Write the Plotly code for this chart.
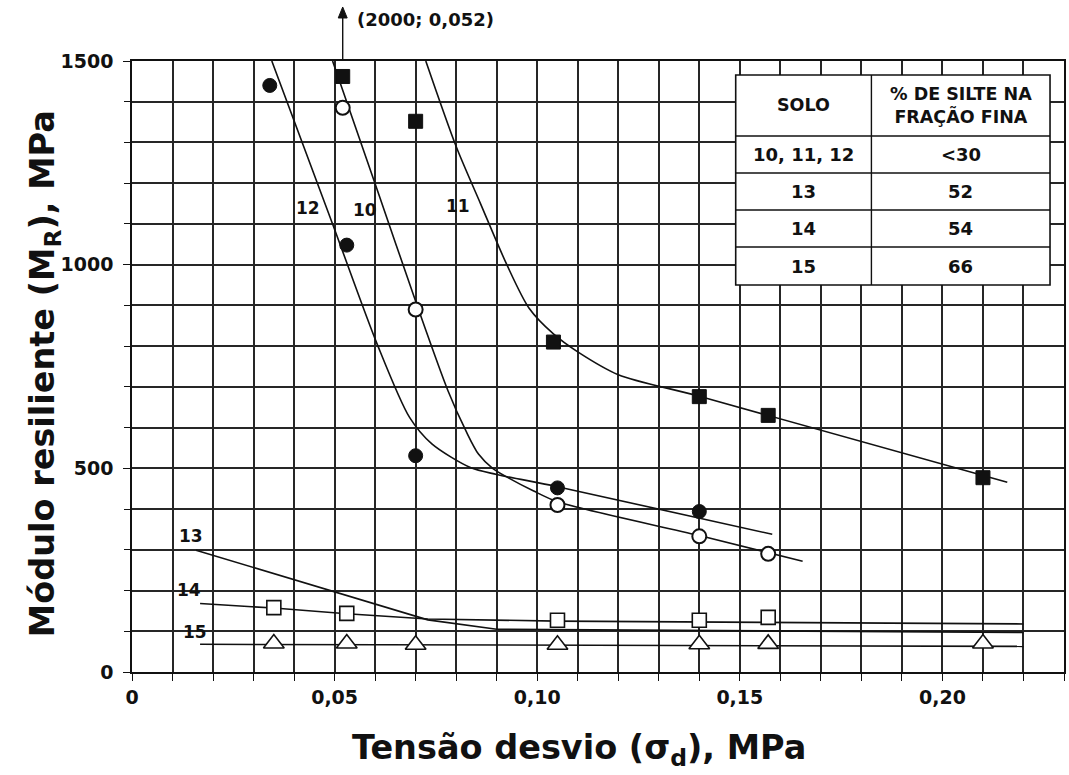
import plotly.graph_objects as go

# ---------------- data ----------------
# measured points (x = tensão desvio, MPa; y = módulo resiliente, MPa)
s10_x = [0.052, 0.070, 0.105, 0.140, 0.157]
s10_y = [1385, 890, 410, 333, 290]
s11_x = [0.052, 0.070, 0.104, 0.140, 0.157, 0.210]
s11_y = [1462, 1352, 810, 676, 630, 477]
s12_x = [0.034, 0.053, 0.070, 0.105, 0.140]
s12_y = [1440, 1048, 531, 452, 394]
s14_x = [0.035, 0.053, 0.105, 0.140, 0.157]
s14_y = [158, 144, 127, 127, 134]
s15_x = [0.035, 0.053, 0.070, 0.105, 0.140, 0.157, 0.210]
s15_y = [70, 70, 67, 67, 68, 69, 70]

# hand-fitted curves
c10_x = [0.0495, 0.061, 0.070, 0.078, 0.0825, 0.0855, 0.089, 0.093, 0.099, 0.105, 0.140, 0.1655]
c10_y = [1500, 1170, 910, 690, 590, 535, 500, 476, 445, 418, 335, 272]
c11_x = [0.0725, 0.080, 0.086, 0.0925, 0.098, 0.104, 0.110, 0.120, 0.140, 0.216]
c11_y = [1500, 1290, 1150, 1000, 893, 830, 786, 730, 677, 466]
c12_x = [0.0345, 0.0495, 0.0605, 0.0685, 0.074, 0.0835, 0.090, 0.105, 0.158]
c12_y = [1500, 1100, 805, 625, 560, 502, 485, 455, 338]
c13_x = [0.0158, 0.073, 0.090, 0.220]
c13_y = [299, 128, 105, 97]
c14_x = [0.0168, 0.035, 0.053, 0.073, 0.105, 0.220]
c14_y = [168, 157, 143, 130, 125, 118]
c15_x = [0.0168, 0.220]
c15_y = [68, 63]

# off-scale point of soil 11 (2000 MPa at 0,052 MPa): arrow above the frame
note_x = 0.052
note_text = "(2000; 0,052)"

# curve labels
lab_text = ["12", "10", "11", "13", "14", "15"]
lab_x = [0.0435, 0.0575, 0.0805, 0.0145, 0.0140, 0.0155]
lab_y = [1140, 1133, 1145, 334, 202, 99]

# axis ticks
x_range = [0, 0.23]
y_range = [0, 1500]
x_tickvals = [0, 0.05, 0.10, 0.15, 0.20]
x_ticktext = ["0", "0,05", "0,10", "0,15", "0,20"]
y_tickvals = [0, 500, 1000, 1500]
y_ticktext = ["0", "500", "1000", "1500"]

# table
tab_header = ["SOLO", "% DE SILTE NA<br>FRAÇÃO FINA"]
tab_solo = ["10, 11, 12", "13", "14", "15"]
tab_silte = ["<30", "52", "54", "66"]

# ---------------- figure ----------------
FONT = "DejaVu Sans"
INK = "#111111"
GRID = "#262626"
W, H = 1069, 775
ML, MR, MT, MB = 132, 3, 61, 103
PW, PH = W - ML - MR, H - MT - MB

def px_x(p):  # pixel -> paper x
    return (p - ML) / PW

def px_y(p):  # pixel -> paper y
    return (H - MB - p) / PH

fig = go.Figure()

for cx, cy, shape in [(c10_x, c10_y, "spline"), (c11_x, c11_y, "spline"),
                      (c12_x, c12_y, "spline"), (c13_x, c13_y, "linear"),
                      (c14_x, c14_y, "linear"), (c15_x, c15_y, "linear")]:
    fig.add_trace(go.Scatter(x=cx, y=cy, mode="lines",
                             line=dict(color=INK, width=1.6, shape=shape, smoothing=0.8),
                             hoverinfo="skip", showlegend=False))

def pts(x, y, symbol, size, fill, lw):
    fig.add_trace(go.Scatter(x=x, y=y, mode="markers", showlegend=False,
                             marker=dict(symbol=symbol, size=size, color=fill,
                                         line=dict(color=INK, width=lw))))

pts(s12_x, s12_y, "circle", 14, INK, 1)
pts(s10_x, s10_y, "circle", 14, "white", 2)
pts(s11_x, s11_y, "square", 14, INK, 1)
pts(s14_x, s14_y, "square", 14, "white", 1.6)
pts(s15_x, s15_y, "triangle-up", 18, "white", 1.6)

annotations = []
shapes = []

def ann(x, y, text, size, xref="paper", yref="paper", **kw):
    d = dict(x=x, y=y, xref=xref, yref=yref, text=text, showarrow=False,
             xanchor="center", yanchor="middle",
             font=dict(family=FONT, size=size, color=INK, weight="bold"))
    d.update(kw)
    annotations.append(d)

for t, x, y in zip(lab_text, lab_x, lab_y):
    ann(x, y, t, 17, xref="x", yref="y")

# arrow for the off-scale value (drawn above the frame)
ax_paper = (note_x - x_range[0]) / (x_range[1] - x_range[0])
shapes.append(dict(type="line", xref="paper", yref="paper", x0=ax_paper, x1=ax_paper,
                   y0=1.0, y1=px_y(16), line=dict(color=INK, width=1.4)))
hx, hw = ML + ax_paper * PW, 4.5
shapes.append(dict(type="path", xref="paper", yref="paper",
                   path="M {:.5f},{:.5f} L {:.5f},{:.5f} L {:.5f},{:.5f} Z".format(
                       px_x(hx - hw), px_y(18), px_x(hx), px_y(7), px_x(hx + hw), px_y(18)),
                   fillcolor=INK, line=dict(color=INK, width=1)))
ann(px_x(hx + 12), px_y(19), note_text, 18, xanchor="left")

# table drawn as a white box with rules
tx0, tx1, txm = px_x(737), px_x(1052), px_x(873)
row_px = [75, 136, 173, 210, 247, 285]
shapes.append(dict(type="rect", xref="paper", yref="paper", x0=tx0, x1=tx1,
                   y0=px_y(row_px[-1]), y1=px_y(row_px[0]), fillcolor="white",
                   line=dict(color=INK, width=1.6), layer="above"))
shapes.append(dict(type="line", xref="paper", yref="paper", x0=txm, x1=txm,
                   y0=px_y(row_px[-1]), y1=px_y(row_px[0]),
                   line=dict(color=INK, width=1.4), layer="above"))
for r in row_px[1:-1]:
    shapes.append(dict(type="line", xref="paper", yref="paper", x0=tx0, x1=tx1,
                       y0=px_y(r), y1=px_y(r), line=dict(color=INK, width=1.4),
                       layer="above"))
col_c = [(tx0 + txm) / 2, (txm + tx1) / 2]
for ci, h in enumerate(tab_header):
    ann(col_c[ci], px_y((row_px[0] + row_px[1]) / 2), h, 17.5, align="center")
for ri in range(len(tab_solo)):
    yc = px_y((row_px[ri + 1] + row_px[ri + 2]) / 2)
    for ci, col in enumerate([tab_solo, tab_silte]):
        ann(col_c[ci], yc, col[ri].replace("<", "&lt;"), 18)

# axis titles
ann(px_x(580), px_y(750), "Tensão desvio (σ<sub>d</sub>), MPa", 33.5)
ann(px_x(45), px_y(374), "Módulo resiliente (M<sub>R</sub>), MPa", 33.5, textangle=-90)

axis_common = dict(showline=True, linecolor=INK, linewidth=1.6, mirror=True,
                   showgrid=True, gridcolor=GRID, gridwidth=1.5,
                   ticks="outside", tickcolor=INK, ticklen=7, tickwidth=1.4,
                   zeroline=False,
                   tickfont=dict(family=FONT, size=19, color=INK, weight="bold"))

fig.update_layout(
    width=W, height=H,
    margin=dict(l=ML, r=MR, t=MT, b=MB),
    paper_bgcolor="white", plot_bgcolor="white",
    annotations=annotations, shapes=shapes,
    xaxis=dict(range=x_range, tickvals=x_tickvals, ticktext=x_ticktext,
               minor=dict(dtick=0.01, tick0=0, showgrid=True, gridcolor=GRID, gridwidth=1.5,
                          ticks="outside", ticklen=7, tickcolor=INK, tickwidth=1.4),
               **axis_common),
    yaxis=dict(range=y_range, tickvals=y_tickvals, ticktext=y_ticktext,
               minor=dict(dtick=100, tick0=0, showgrid=True, gridcolor=GRID, gridwidth=1.5,
                          ticks="outside", ticklen=6, tickcolor=INK, tickwidth=1.4),
               ticklabelstandoff=6,
               **axis_common),
)

fig.write_html("out.html")
